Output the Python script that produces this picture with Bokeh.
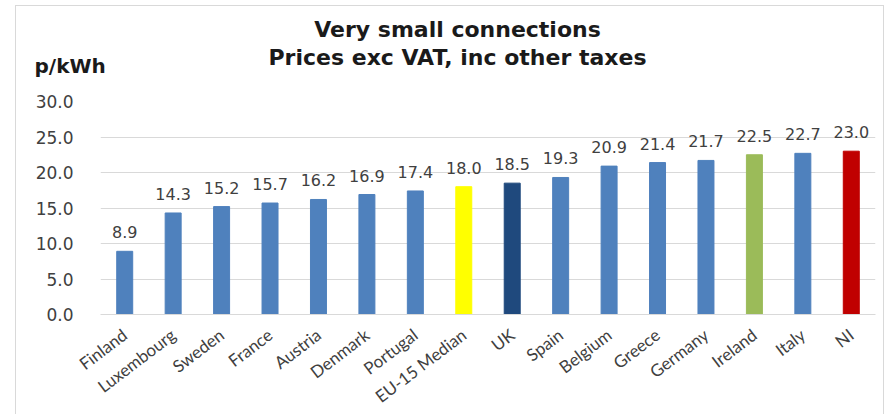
from bokeh.plotting import figure
from bokeh.models import ColumnDataSource, LabelSet, Label, Range1d, FactorRange
from bokeh.core.properties import value
from bokeh.embed import file_html
from bokeh.resources import INLINE

categories = ["Finland", "Luxembourg", "Sweden", "France", "Austria", "Denmark",
              "Portugal", "EU-15 Median", "UK", "Spain", "Belgium", "Greece",
              "Germany", "Ireland", "Italy", "NI"]
prices = [8.9, 14.3, 15.2, 15.7, 16.2, 16.9, 17.4, 18.0, 18.5, 19.3, 20.9, 21.4,
          21.7, 22.5, 22.7, 23.0]
bar_colors = ["#4F81BD"] * 7 + ["#FFFF00", "#1F497D"] + ["#4F81BD"] * 4 + \
             ["#9BBB59", "#4F81BD", "#C00000"]
y_ticks = [0, 5, 10, 15, 20, 25, 30]
labels = ["%.1f" % v for v in prices]

source = ColumnDataSource(dict(cat=categories, val=prices, color=bar_colors, lab=labels))

p = figure(frame_width=775, frame_height=213,
           x_range=FactorRange(*categories, range_padding=0),
           y_range=Range1d(0, 30), output_backend="svg", toolbar_location=None,
           min_border_left=84, min_border_right=8, min_border_top=95, min_border_bottom=99)
p.margin = (5, 0, 0, 15)
p.styles = {"border": "1px solid #D9D9D9"}
p.outline_line_color = None
p.background_fill_color = "white"
p.border_fill_color = "white"

p.vbar(x="cat", top="val", width=0.33, color="color", source=source)

lab = LabelSet(x="cat", y="val", text="lab", source=source, text_align="center",
               text_baseline="alphabetic", y_offset=13, text_font=value("DejaVu Sans"),
               text_font_size="16px", text_color="#404040")
p.add_layout(lab)

# axes
p.xaxis.axis_line_color = "#D9D9D9"
p.xaxis.major_tick_line_color = None
p.xaxis.minor_tick_line_color = None
p.xaxis.major_label_orientation = 0.65
p.xaxis.major_label_text_font = "Lato"
p.xaxis.major_label_text_font_size = "17px"
p.xaxis.major_label_text_color = "#404040"
p.xaxis.major_label_standoff = 12
p.xgrid.grid_line_color = None

p.yaxis.axis_line_color = None
p.yaxis.major_tick_line_color = None
p.yaxis.minor_tick_line_color = None
p.yaxis.ticker = y_ticks
p.yaxis.major_label_overrides = {t: "%.1f" % t for t in y_ticks}
p.yaxis.major_label_text_font = "DejaVu Sans"
p.yaxis.major_label_text_font_size = "17px"
p.yaxis.major_label_text_color = "#404040"
p.yaxis.major_label_standoff = 21
p.ygrid.grid_line_color = "#D9D9D9"
p.ygrid.ticker = y_ticks

p.add_layout(Label(x=7.37, y=40.14, text="Very small connections", text_align="center",
                   text_baseline="alphabetic", text_font="DejaVu Sans", text_font_style="bold",
                   text_font_size="22px", text_color="#1a1a1a"), "above")
p.add_layout(Label(x=7.37, y=36.2, text="Prices exc VAT, inc other taxes", text_align="center",
                   text_baseline="alphabetic", text_font="DejaVu Sans", text_font_style="bold",
                   text_font_size="22px", text_color="#1a1a1a"), "above")
p.add_layout(Label(x=-1.362, y=35.07, text="p/kWh", text_align="left",
                   text_baseline="alphabetic", text_font="DejaVu Sans", text_font_style="bold",
                   text_font_size="20px", text_color="#1a1a1a"), "above")

open("out.html", "w").write(file_html(p, INLINE))
